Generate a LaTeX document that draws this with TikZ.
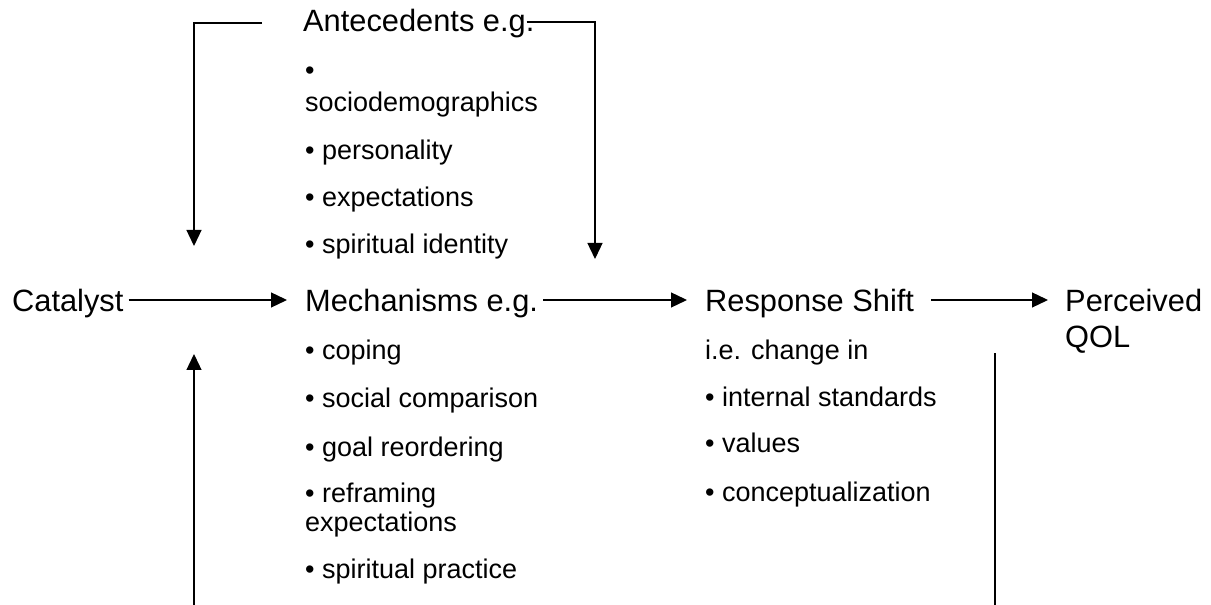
\documentclass[tikz,border=0pt]{standalone}
\usepackage{fontspec}
\setmainfont{Liberation Sans}
\usetikzlibrary{arrows.meta, positioning, calc}

\tikzset{
	head/.style={font=\fontsize{30.8}{36}\selectfont, inner sep=0pt, anchor=base west},
	item/.style={font=\fontsize{27}{32}\selectfont, inner sep=0pt, anchor=base west},
	flow/.style={line width=1.3pt, -{Triangle[length=16pt, width=15pt]}},
	plain/.style={line width=1.3pt}
}

\begin{document}
\begin{tikzpicture}[x=1pt, y=1pt]
		\useasboundingbox (0,0) rectangle (1211,605);
		% free ends of the side connectors
		\coordinate (anteL) at (194,359);
		\coordinate (anteR) at (595,346);
		\coordinate (lowL) at (194,0);
		\coordinate (tipL) at (194,251);
		\coordinate (lowR) at (995,0);
		\coordinate (topR) at (995,252);
		% main row
		\node[head] (cat) at (12,293) {Catalyst};
		\node[head] (mech) at (305,293) {Mechanisms e.g.};
		\node[head] (resp) at (705,293) {Response Shift};
		\node[head] (qol) at (1065,293) {Perceived};
		\node[head] (qol2) at (1065,257) {QOL};
		% antecedents
		\node[head] (ante) at (303,573) {Antecedents e.g.};
		\node[item] (ante1) at (305,525) {•};
		\node[item] (ante1b) at (305,493) {sociodemographics};
		\node[item] (ante2) at (305,445) {• personality};
		\node[item] (ante3) at (305,398) {• expectations};
		\node[item] (ante4) at (305,351) {• spiritual identity};
		% mechanisms
		\node[item] (mech1) at (305,245) {• coping};
		\node[item] (mech2) at (305,197) {• social comparison};
		\node[item] (mech3) at (305,148) {• goal reordering};
		\node[item] (mech4) at (305,102) {• reframing};
		\node[item] (mech4b) at (305,73) {expectations};
		\node[item] (mech5) at (305,26) {• spiritual practice};
		% response shift
		\node[item] (resp0) at (705,245) {i.e. change in};
		\node[item] (resp1) at (705,198) {• internal standards};
		\node[item] (resp2) at (705,152) {• values};
		\node[item] (resp3) at (705,103) {• conceptualization};
		% arrows
		\draw[flow] ([shift={(5pt,12pt)}]cat.base east) -- ([shift={(-18pt,12pt)}]mech.base west);
		\draw[flow] ([shift={(5pt,12pt)}]mech.base east) -- ([shift={(-18pt,12pt)}]resp.base west);
		\draw[flow] ([shift={(17pt,12pt)}]resp.base east) -- ([shift={(-17pt,12pt)}]qol.base west);
		\draw[flow] ([shift={(-41pt,9pt)}]ante.base west) -| (anteL);
		\draw[flow] ([shift={(-8pt,10pt)}]ante.base east) -| (anteR);
		\draw[flow] (lowL) -- (tipL);
		\draw[plain] (lowR) -- (topR);
	\end{tikzpicture}
\end{document}
